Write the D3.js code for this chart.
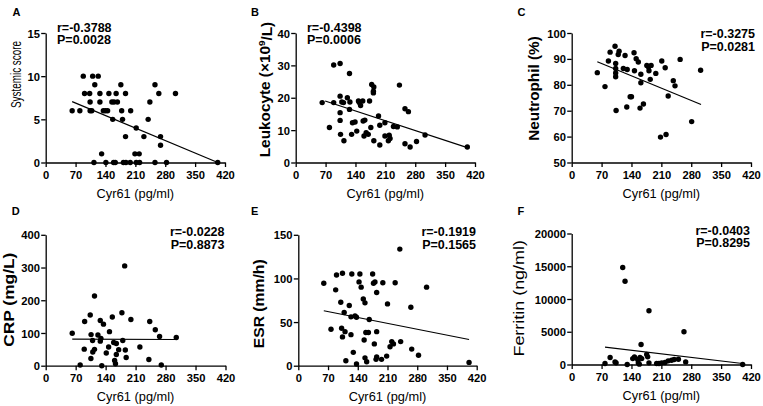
<!DOCTYPE html>
<html>
<head>
<meta charset="utf-8">
<script src="https://cdn.jsdelivr.net/npm/d3@7/dist/d3.min.js"></script>
<style>
  html, body { margin: 0; padding: 0; background: #fff; }
  svg { display: block; }
  text { font-family: "Liberation Sans", Arial, sans-serif; fill: #000; }
</style>
</head>
<body>
<svg id="chart" width="763" height="406"></svg>
<script>
// ---------------- DATA ----------------
const xTicks = [0, 70, 140, 210, 280, 350, 420];
const xTitle = "Cyr61 (pg/ml)";
const panelLetters = ["A", "B", "C", "D", "E", "F"];

// A: Systemic score
const aX = [88,110,123, 115,176,256, 91,103,127,148,165,187,265,304, 104,127,155,160,168,244,
            62,80,104,108,135,140,145,178,199, 157,180,240, 212, 187,230,269, 269, 131,209,219,
            113,141,159,163,182,188,198,212,220,256,283,403];
const aY = [10,10,10, 9,9,9, 8,8,8,8,8,8,8,8, 7,7,7,7,7,7,
            6,6,6,6,6,6,6,6,6, 5,5,5, 4, 3,3,3, 2, 1,1,1,
            0,0,0,0,0,0,0,0,0,0,0,0];
const aTicks = [0, 5, 10, 15];
const aFit = [62, 7.05, 403, 0];
const aStats = ["r=-0.3788", "P=0.0028"];

// B: Leukocyte
const bX = [62,79,89,89,104,104,104,104,105,108, 112,113,121,126,126,127,133,131,139,143,
            147,149,152,157,158,162,160,165,170,173, 176,178,182,183,182,183,194,197,197,209,
            209,219,217,221,229,238,243,256,264,256, 268,283,303,402];
const bY = [18.5,10.8,18.5,30.1,30.6,20.5,15.4,13.0,8.7,18.7, 18.5,6.7,20,27.5,16.4,18.7,12.3,8.7,12.5,9.7,
            19,18.5,17.6,19,12.8,13.1,8.2,9.2,8.7,19, 10.8,24.1,22,23.3,21.5,6.7,14.4,11.5,5.4,12.3,
            8.2,8.4,6.7,7.4,11.1,11,23.9,16.6,15.7,5.8, 4.8,6.5,8.5,4.8];
const bTicks = [0, 10, 20, 30, 40];
const bFit = [69, 19, 402, 4.6];
const bStats = ["r=-0.4398", "P=0.0006"];

// C: Neutrophil
const cX = [60,78,86,90,101.5,103,103,103,103,104, 109,111,121,125,130,129,137,140,146,147,
            151,156,162,162,160,168,176,180,181,186, 184,197,211,208,219,221,226,238,242,254, 281,302];
const cY = [84.7,79.3,89.2,92.6,94.9,88.2,86.3,84.6,83.1,70.1, 91.7,93,86.3,91.3,85.9,71.4,75.4,75.4,92.4,85.4,
            90.1,88.8,84.1,80.8,71,72.6,87.5,86.9,85.4,87.5, 82.1,84.4,89.2,59.8,86.6,60.8,75.7,81.6,79.6,89.8, 65.8,85.6];
const cTicks = [50, 60, 70, 80, 90, 100];
const cFit = [60, 88.9, 303, 72.4];
const cStats = ["r=-0.3275", "P=0.0281"];

// D: CRP
const dX = [62,80.5,90,91,104,106,109.5,110,105.6, 114,114,122,127.5,127.5,129,135,131,141.5,147,
            149,155.6,158.8,161,163,165,165,170.5,178,180, 184.5,186,188,199,220,243,241,256,266,270, 305];
const dY = [99,2,50.5,135,155,95,77,42,22, 213,50,94,138,75,83,127,0,39,57,
            104,149,71,16,6,68,34,49,162,77, 305,48,25,141,57,135,19,110,89,2, 86];
const dTicks = [0, 100, 200, 300, 400];
const dFit = [62, 81, 305, 80];
const dStats = ["r=-0.0228", "P=0.8873"];

// E: ESR
const eX = [60,77,88,90,100,104,102,104,110,108, 112,120,124,124,126,129.5,133.5,137,137,143,
            145,148,153,155,157,157,159,161,165,167, 175,177,180.5,179,183,184.5,184.5,184.5,196,199,
            208,210,216,220,224,228,241,239,265,267, 283,302,402];
const eY = [94.5,41.7,86.9,104,72.7,106,42.9,33,39,61, 5.7,69,56,35.6,105,15.3,57,55.5,2,96,
            105,90,76.5,29.5,72,9,38,4.6,38,53, 105,94.5,96,25,7.3,39,83.8,10,7.3,95,
            11,70.8,21.8,27.6,25,95,27.6,133.6,67,19, 12,90,3.8];
const eTicks = [0, 50, 100, 150];
const eFit = [60, 63, 402, 30];
const eStats = ["r=-0.1919", "P=0.1565"];

// F: Ferritin
const fX = [78,90,101.5,104,119.5,125,130,143,147,154.6, 156,158.5,160,164,162.5,175.7,178,181,181,199,
            204.5,211,218.6,226,234,240,250,263,267,400.5];
const fY = [150,1070,400,250,14800,12700,0,900,1170,760, 250,50,1070,900,3050,1530,1170,8200,250,150,
            150,250,300,560,660,760,810,5000,400,0];
const fTicks = [0, 5000, 10000, 15000, 20000];
const fFit = [78, 2650, 400, 150];
const fStats = ["r=-0.0403", "P=0.8295"];

// ---------------- LAYOUT / STYLE ----------------
const panels = [
  { xs: aX, ys: aY, ticks: aTicks, fit: aFit, stats: aStats,
    L: 45.7, R: 225, T: 33, B: 162.5, letter: [12.5, 15.7],
    statsPos: { x: 57, y: 31.5, anchor: "start" },
    yTitle: { parts: [["Systemic score"]], x: 21, cy: 74.5, len: 67, size: 14, weight: "normal" } },
  { xs: bX, ys: bY, ticks: bTicks, fit: bFit, stats: bStats,
    L: 295.7, R: 475, T: 33, B: 162.5, letter: [251, 15.7],
    statsPos: { x: 307, y: 31.5, anchor: "start" },
    yTitle: { parts: [["Leukocyte (×10"], ["9", "sup"], ["/L)"]], x: 269.5, cy: 89.5, len: 135.5, size: 14, weight: "bold" } },
  { xs: cX, ys: cY, ticks: cTicks, fit: cFit, stats: cStats,
    L: 571.7, R: 751, T: 33, B: 162.5, letter: [517.5, 15.7],
    statsPos: { x: 755, y: 38, anchor: "end" },
    yTitle: { parts: [["Neutrophil (%)"]], x: 538.5, cy: 88.5, len: 104.5, size: 14, weight: "bold" } },
  { xs: dX, ys: dY, ticks: dTicks, fit: dFit, stats: dStats,
    L: 45.7, R: 225.5, T: 234.8, B: 365.7, letter: [11.7, 214.5],
    statsPos: { x: 224.5, y: 235.8, anchor: "end" },
    yTitle: { parts: [["CRP (mg/L)"]], x: 14, cy: 299.7, len: 94, size: 14, weight: "bold" } },
  { xs: eX, ys: eY, ticks: eTicks, fit: eFit, stats: eStats,
    L: 298.3, R: 476.7, T: 234.8, B: 365.7, letter: [251, 214.5],
    statsPos: { x: 476, y: 235.8, anchor: "end" },
    yTitle: { parts: [["ESR (mm/h)"]], x: 264, cy: 303.8, len: 89, size: 14, weight: "bold" } },
  { xs: fX, ys: fY, ticks: fTicks, fit: fFit, stats: fStats,
    L: 571.7, R: 751, T: 233.5, B: 364.5, letter: [517.5, 214.5],
    statsPos: { x: 750, y: 234.5, anchor: "end" },
    yTitle: { parts: [["Ferritin (ng/ml)"]], x: 523.5, cy: 298.3, len: 116.5, size: 14, weight: "normal" } }
];

const svg = d3.select("#chart");
const axisStroke = 1.3;

panels.forEach((p, i) => {
  const x = d3.scaleLinear().domain([xTicks[0], xTicks[xTicks.length - 1]]).range([p.L, p.R]);
  const y = d3.scaleLinear().domain([p.ticks[0], p.ticks[p.ticks.length - 1]]).range([p.B, p.T]);
  const g = svg.append("g");

  // x axis
  const gx = g.append("g").attr("transform", `translate(0,${p.B})`)
    .call(d3.axisBottom(x).tickValues(xTicks).tickSize(4.5).tickSizeOuter(0).tickPadding(4).tickFormat(d3.format("d")));
  // y axis
  const gy = g.append("g").attr("transform", `translate(${p.L},0)`)
    .call(d3.axisLeft(y).tickValues(p.ticks).tickSize(4.5).tickSizeOuter(0).tickPadding(1.3).tickFormat(d3.format("d")));
  [gx, gy].forEach(a => {
    a.selectAll("path.domain").attr("stroke", "#000").attr("stroke-width", axisStroke);
    a.selectAll(".tick line").attr("stroke", "#000").attr("stroke-width", axisStroke);
    a.selectAll(".tick text").attr("font-family", "Liberation Sans, Arial, sans-serif")
      .attr("font-size", 11.2).attr("font-weight", "bold").attr("fill", "#000");
  });
  gy.selectAll(".tick text").attr("dy", "0.36em");

  // x title
  g.append("text").attr("x", (p.L + p.R) / 2).attr("y", p.B + 35)
    .attr("text-anchor", "middle").attr("font-size", 12.8).text(xTitle);

  // y title
  const yt = g.append("text")
    .attr("transform", `translate(${p.yTitle.x},${p.yTitle.cy}) rotate(-90)`)
    .attr("text-anchor", "middle")
    .attr("font-size", p.yTitle.size).attr("font-weight", p.yTitle.weight)
    .attr("textLength", p.yTitle.len).attr("lengthAdjust", "spacingAndGlyphs");
  p.yTitle.parts.forEach((pt, k) => {
    const ts = yt.append("tspan").text(pt[0]);
    if (pt[1] === "sup") ts.attr("dy", "-0.45em").attr("font-size", p.yTitle.size * 0.65);
    else if (k > 0) ts.attr("dy", "0.45em");
  });

  // regression line
  g.append("line")
    .attr("x1", x(p.fit[0])).attr("y1", y(p.fit[1]))
    .attr("x2", x(p.fit[2])).attr("y2", y(p.fit[3]))
    .attr("stroke", "#000").attr("stroke-width", 1.2);

  // points
  g.append("g").selectAll("circle").data(p.xs.map((v, k) => [v, p.ys[k]])).join("circle")
    .attr("cx", d => x(d[0])).attr("cy", d => y(d[1])).attr("r", 2.7).attr("fill", "#000");

  // stats
  p.stats.forEach((s, k) => {
    g.append("text").attr("x", p.statsPos.x).attr("y", p.statsPos.y + k * 12.8)
      .attr("text-anchor", p.statsPos.anchor).attr("font-size", 12.5).attr("font-weight", "bold").text(s);
  });

  // panel letter
  g.append("text").attr("x", p.letter[0]).attr("y", p.letter[1])
    .attr("font-size", 11).attr("font-weight", "bold").text(panelLetters[i]);
});
</script>
</body>
</html>
